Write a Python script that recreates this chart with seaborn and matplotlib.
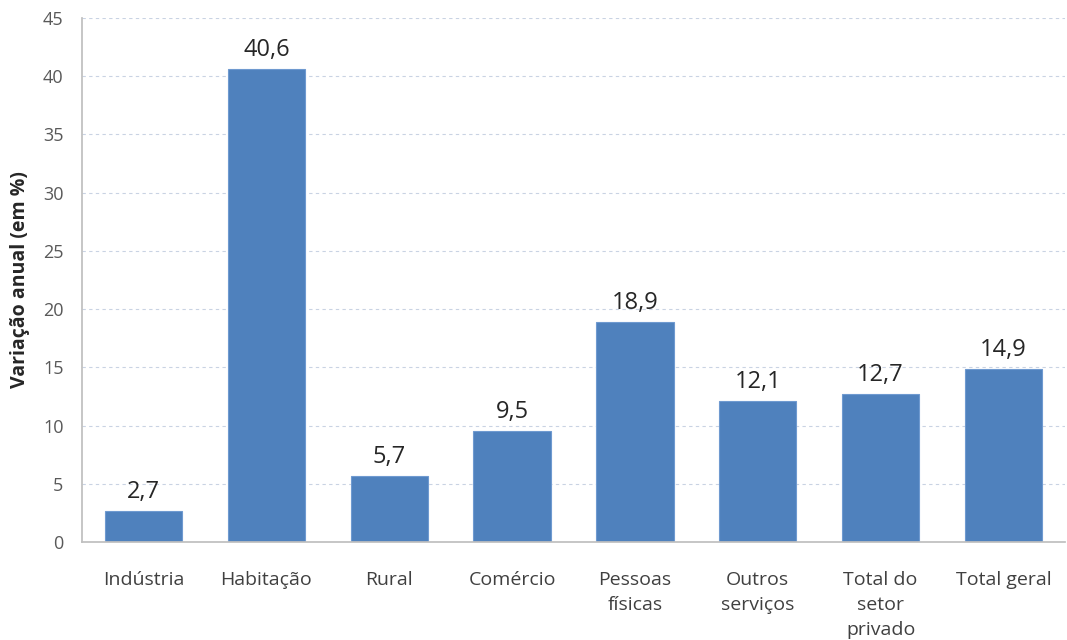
import matplotlib
matplotlib.use("Agg")
import matplotlib.pyplot as plt
import seaborn as sns
import pandas as pd
import numpy as np

categorias = ["Indústria", "Habitação", "Rural", "Comércio", "Pessoas\nfísicas",
              "Outros\nserviços", "Total do\nsetor\nprivado", "Total geral"]
valores = [2.7, 40.6, 5.7, 9.5, 18.9, 12.1, 12.7, 14.9]
rotulos = ["2,7", "40,6", "5,7", "9,5", "18,9", "12,1", "12,7", "14,9"]
yticks = [0, 5, 10, 15, 20, 25, 30, 35, 40, 45]

sns.set_theme(style="white")
plt.rcParams['font.family'] = ['Open Sans', 'DejaVu Sans']

df = pd.DataFrame({"cat": categorias, "val": valores})

fig = plt.figure(figsize=(10.67, 6.4), dpi=100)
ax = fig.add_axes([0.077, 0.153, 0.921, 0.819])

sns.barplot(data=df, x="cat", y="val", color="#4F81BD", width=0.63,
            saturation=1, ax=ax, edgecolor="#6F9AD0", linewidth=0.8)

ax.set_ylim(0, 45)
ax.set_xlim(-0.5, len(categorias) - 0.5)
ax.set_yticks(yticks)
ax.set_yticklabels([str(v) for v in yticks], color="#595959", fontsize=13)
ax.yaxis.grid(True, linestyle=(0, (3, 3)), color="#C9D3E3", linewidth=0.8)
ax.set_axisbelow(True)

ax.set_xticks(range(len(categorias)))
ax.set_xticklabels(categorias, fontsize=14, color="#404040", linespacing=1.5)
ax.tick_params(axis="x", length=0, pad=21)
ax.set_xticks(np.arange(-0.5, len(categorias) + 0.5, 1), minor=True)
ax.tick_params(axis="x", which="minor", length=4.5, color="#BFBFBF", width=1, direction="out")
ax.tick_params(axis="y", length=4.5, color="#BFBFBF", width=1, direction="out", pad=9)

for side in ["top", "right"]:
    ax.spines[side].set_visible(False)
ax.spines["left"].set_color("#BFBFBF")
ax.spines["bottom"].set_color("#BFBFBF")

for i, (v, t) in enumerate(zip(valores, rotulos)):
    ax.text(i, v + 0.6, t, ha="center", va="bottom", fontsize=17, color="#262626")

ax.set_xlabel("")
ax.set_ylabel("Variação anual (em %)", fontsize=14, fontweight="bold", color="#262626", labelpad=9)

fig.savefig("out.png", dpi=100)
